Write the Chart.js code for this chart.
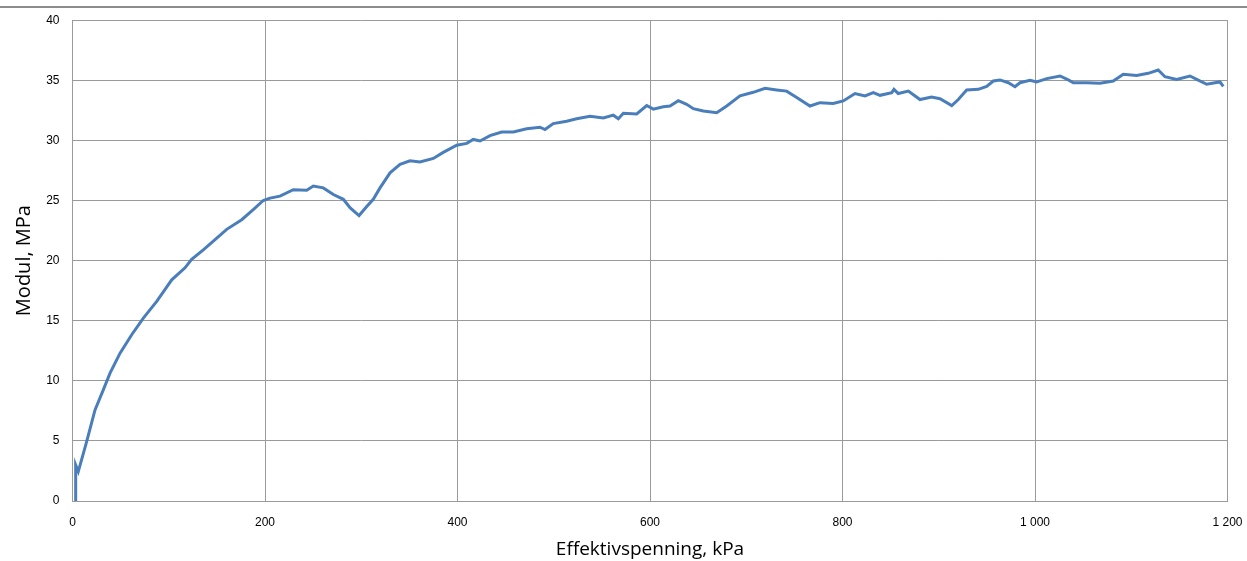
<!DOCTYPE html>
<html>
<head>
<meta charset="utf-8">
<script src="https://cdn.jsdelivr.net/npm/chart.js@4/dist/chart.umd.min.js"></script>
<style>
    html, body { margin: 0; padding: 0; background: #fff; }
    .top-rule { position: absolute; left: 0; top: 6px; width: 1247px; height: 0; border-top: 2px solid #8c8c8c; }
    .wrap { position: absolute; left: 0; top: 0; width: 1247px; height: 561px; }
</style>
</head>
<body>
<div class="top-rule"></div>
<div class="wrap"><canvas id="chart"></canvas></div>
<script>
// Effektivspenning (kPa)
const stress = [
    3.3, 3.3, 6.0, 14.7, 23.4, 32.0, 39.0, 49.4, 61.5, 73.6, 87.5, 103.1, 116.9, 123.8,
    135.9, 148.1, 160.2, 175.8, 187.8, 198.2, 205.2, 215.6, 229.4, 243.3, 250.2, 260.6,
    271.0, 281.4, 288.3, 297.7, 305.7, 312.5, 319.5, 329.9, 340.3, 350.6, 361.0, 374.9,
    385.2, 399.2, 409.6, 416.4, 423.4, 433.8, 445.9, 458.0, 471.9, 485.7, 490.9, 499.5,
    513.4, 523.8, 537.7, 551.5, 561.9, 567.1, 572.3, 586.2, 596.6, 603.4, 613.8, 620.8,
    629.4, 638.1, 645.0, 655.4, 669.3, 679.7, 693.5, 707.3, 719.5, 731.6, 742.0, 752.4,
    766.2, 776.6, 790.4, 800.8, 813.0, 823.4, 832.0, 839.0, 851.2, 853.5, 857.9, 868.4,
    880.5, 892.5, 901.3, 913.5, 920.3, 929.0, 941.1, 949.8, 956.7, 963.6, 972.3, 979.2,
    984.4, 994.8, 1001.7, 1012.2, 1026.0, 1034.6, 1039.8, 1053.6, 1067.5, 1081.3, 1091.7,
    1105.6, 1117.6, 1128.0, 1135.0, 1147.2, 1161.0, 1168.0, 1178.4, 1187.0, 1192.2, 1195.6
];
// Modul (MPa)
const modulus = [
    0.0, 3.0, 2.45, 4.94, 7.58, 9.25, 10.64, 12.3, 13.83, 15.22, 16.6, 18.4, 19.4, 20.1,
    20.9, 21.75, 22.6, 23.4, 24.25, 25.0, 25.2, 25.36, 25.9, 25.86, 26.2, 26.05,
    25.5, 25.1, 24.4, 23.75, 24.5, 25.1, 26.05, 27.3, 28.0, 28.3, 28.2, 28.5,
    29.0, 29.6, 29.75, 30.08, 29.95, 30.4, 30.7, 30.7, 30.97, 31.1, 30.9, 31.4,
    31.6, 31.8, 32.0, 31.86, 32.1, 31.8, 32.25, 32.2, 32.9, 32.6, 32.8, 32.86,
    33.3, 33.0, 32.64, 32.45, 32.3, 32.86, 33.7, 34.0, 34.33, 34.2, 34.1, 33.56,
    32.86, 33.14, 33.08, 33.28, 33.9, 33.7, 33.97, 33.75, 33.97, 34.25, 33.9, 34.1,
    33.4, 33.6, 33.47, 32.9, 33.4, 34.2, 34.25, 34.5, 34.94, 35.03, 34.8, 34.47,
    34.8, 35.0, 34.86, 35.14, 35.36, 35.03, 34.8, 34.8, 34.75, 34.94, 35.5,
    35.4, 35.58, 35.86, 35.3, 35.08, 35.36, 35.08, 34.67, 34.8, 34.86, 34.5
];
const xTicks = [0, 200, 400, 600, 800, 1000, 1200];
const yTicks = [0, 5, 10, 15, 20, 25, 30, 35, 40];

function formatThousands(v) {
    return String(v).replace(/\B(?=(\d{3})+(?!\d))/g, ' ');
}

const ctx = document.getElementById('chart').getContext('2d');
new Chart(ctx, {
    type: 'line',
    data: {
        datasets: [{
            label: 'Modul',
            data: stress.map((x, i) => ({ x: x, y: modulus[i] })),
            borderColor: '#4a7ebb',
            borderWidth: 3,
            pointRadius: 0,
            tension: 0,
            fill: false
        }]
    },
    options: {
        responsive: true,
        maintainAspectRatio: false,
        animation: false,
        layout: { padding: { top: 20, right: 0, left: 0, bottom: 0 } },
        plugins: {
            legend: { display: false },
            tooltip: { enabled: false }
        },
        scales: {
            x: {
                type: 'linear',
                min: 0,
                max: 1200,
                afterBuildTicks: function(scale) {
                    scale.ticks = xTicks.map(v => ({ value: v }));
                },
                afterFit: function(scale) {
                    scale.height = 60;
                    scale.paddingRight = 19.5;
                    scale.paddingLeft = 0;
                },
                grid: { color: '#9a9a9a', lineWidth: 1, drawTicks: false },
                border: { color: '#9a9a9a' },
                ticks: {
                    padding: 14,
                    color: '#000',
                    maxRotation: 0,
                    font: { family: 'Liberation Sans, Arial', size: 12 },
                    callback: function(value) { return formatThousands(value); }
                },
                title: {
                    display: true,
                    text: 'Effektivspenning, kPa',
                    color: '#000',
                    font: { family: 'Open Sans', size: 19 },
                    padding: { top: 0, bottom: 0 }
                }
            },
            y: {
                min: 0,
                max: 40,
                afterBuildTicks: function(scale) {
                    scale.ticks = yTicks.map(v => ({ value: v }));
                },
                afterFit: function(scale) {
                    scale.width = 72.5;
                },
                grid: { color: '#9a9a9a', lineWidth: 1, drawTicks: false },
                border: { color: '#9a9a9a' },
                ticks: {
                    padding: 13,
                    color: '#000',
                    font: { family: 'Liberation Sans, Arial', size: 12 }
                },
                title: {
                    display: true,
                    text: 'Modul, MPa',
                    color: '#000',
                    font: { family: 'Open Sans', size: 20 },
                    padding: { top: 12, bottom: 0 }
                }
            }
        }
    }
});
</script>
</body>
</html>
